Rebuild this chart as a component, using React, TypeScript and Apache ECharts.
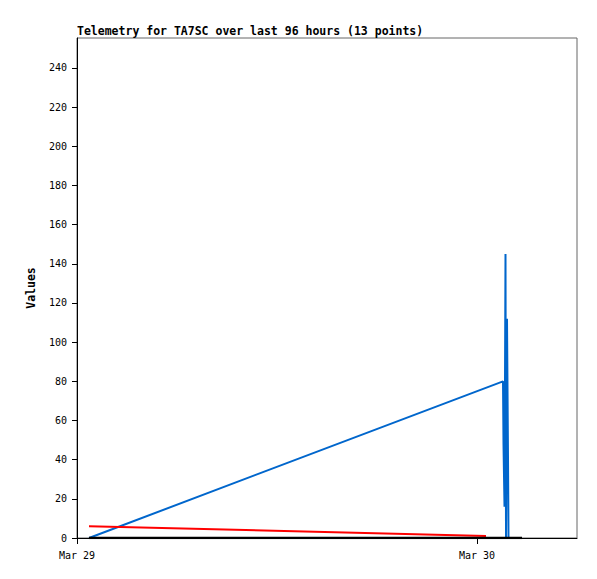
import React, { useEffect, useRef } from "react";
import * as echarts from "echarts";

// x values are hours since Mar 29 00:00
const xTickLabels = ["Mar 29", "Mar 30"];
const blueData: [number, number][] = [
  [0.72, 0],
  [25.56, 80],
  [25.59, 48],
  [25.65, 16],
  [25.71, 145],
  [25.74, 0],
  [25.8, 112],
  [25.86, 41],
  [25.89, 0],
];
const redData: [number, number][] = [
  [0.72, 6],
  [24.54, 1],
];
const blackData: [number, number][] = [
  [0.72, 0],
  [26.7, 0],
];
const titleText = "Telemetry for TA7SC over last 96 hours (13 points)";
const yName = "Values";

const MONO = "'DejaVu Sans Mono', 'Liberation Mono', monospace";

export default function App() {
  const ref = useRef<HTMLDivElement>(null);
  useEffect(() => {
    document.body.style.margin = "0";
    const chart = echarts.init(ref.current!, undefined, { renderer: "svg" });
    chart.setOption({
      animation: false,
      backgroundColor: "#ffffff",
      title: {
        text: titleText,
        left: 77,
        top: 25,
        padding: 0,
        textStyle: { fontFamily: MONO, fontSize: 11.5, fontWeight: "bold", color: "#000" },
      },
      grid: {
        left: 77,
        top: 38,
        right: 20,
        bottom: 41,
        show: true,
        borderColor: "#666",
        borderWidth: 1,
        backgroundColor: "transparent",
      },
      xAxis: {
        type: "value",
        min: 0,
        max: 30,
        interval: 24,
        axisLine: { show: true, onZero: false, lineStyle: { color: "#000", width: 1 } },
        axisTick: { show: true, inside: false, length: 6, lineStyle: { color: "#000" } },
        splitLine: { show: false },
        axisLabel: {
          showMaxLabel: false,
          margin: 12,
          fontFamily: MONO,
          fontSize: 10,
          color: "#000",
          formatter: (v: number) => (v === 0 ? xTickLabels[0] : v === 24 ? xTickLabels[1] : ""),
        },
      },
      yAxis: {
        type: "value",
        min: 0,
        max: 255.3,
        interval: 20,
        name: yName,
        nameLocation: "middle",
        nameGap: 40,
        nameRotate: 90,
        nameTextStyle: { fontFamily: MONO, fontSize: 11.5, fontWeight: "bold", color: "#000" },
        axisLine: { show: true, lineStyle: { color: "#000", width: 1 } },
        axisTick: { show: true, inside: false, length: 5, lineStyle: { color: "#000" } },
        splitLine: { show: false },
        axisLabel: {
          showMaxLabel: false,
          margin: 10,
          fontFamily: MONO,
          fontSize: 10,
          color: "#000",
        },
      },
      series: [
        {
          type: "line",
          data: blueData,
          symbol: "none",
          lineStyle: { color: "#0066cc", width: 2 },
          z: 2,
        },
        {
          type: "line",
          data: redData,
          symbol: "none",
          lineStyle: { color: "#ff0000", width: 2 },
          z: 3,
        },
        {
          type: "line",
          data: blackData,
          symbol: "none",
          lineStyle: { color: "#000000", width: 2.5 },
          z: 4,
        },
      ],
    });
    return () => chart.dispose();
  }, []);
  return <div ref={ref} style={{ position: "fixed", left: 0, top: 0, width: 597, height: 579 }} />;
}
